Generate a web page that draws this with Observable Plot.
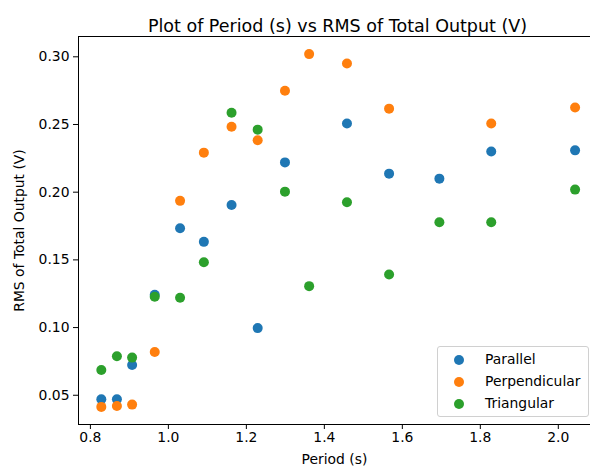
<!DOCTYPE html>
<html>
<head>
<meta charset="utf-8">
<script src="https://cdn.jsdelivr.net/npm/d3@7"></script>
<script src="https://cdn.jsdelivr.net/npm/@observablehq/plot@0.6"></script>
<style>
  body { margin: 0; background: #fff; }
  #wrap { position: relative; width: 590px; height: 469px; overflow: hidden; font-family: "DejaVu Sans", sans-serif; }
  #legend { position: absolute; left: 437px; top: 346px; width: 152px; height: 71px; border: 1px solid #d0d0d0; border-radius: 3px; background: rgba(255,255,255,0.8); box-sizing: border-box; }
  .row { position: absolute; left: 0; height: 20px; font-size: 13.9px; color: #000; }
  .sw { position: absolute; left: 16px; top: 6px; width: 10px; height: 10px; border-radius: 50%; }
  .lab { position: absolute; left: 47px; top: 2px; white-space: nowrap; }
</style>
</head>
<body>
<div id="wrap"></div>
<script>
const periods = [0.828, 0.868, 0.907, 0.965, 1.030, 1.091, 1.162, 1.229, 1.299, 1.361, 1.458, 1.566, 1.695, 1.828, 2.043];
const parallel = [0.047, 0.047, 0.0724, 0.1243, 0.1734, 0.1633, 0.1906, 0.0996, 0.2220, null, 0.2508, 0.2137, 0.2100, 0.2300, 0.2309];
const perpendicular = [0.0414, 0.0421, 0.0431, 0.0819, 0.1936, 0.2292, 0.2484, 0.2383, 0.2749, 0.3020, 0.2950, 0.2617, null, 0.2508, 0.2626];
const triangular = [0.0687, 0.0788, 0.0778, 0.1228, 0.1220, 0.1483, 0.2587, 0.2462, 0.2004, 0.1306, 0.1926, 0.1392, 0.1778, 0.1778, 0.2019];
const seriesNames = ["Parallel", "Perpendicular", "Triangular"];
const seriesColors = ["#1f77b4", "#ff7f0e", "#2ca02c"];
const xTicks = [0.8, 1.0, 1.2, 1.4, 1.6, 1.8, 2.0];
const yTicks = [0.05, 0.10, 0.15, 0.20, 0.25, 0.30];
const title = "Plot of Period (s) vs RMS of Total Output (V)";
const xLabel = "Period (s)";
const yLabel = "RMS of Total Output (V)";

const seriesValues = [parallel, perpendicular, triangular];
const rows = [];
seriesValues.forEach((vals, si) => {
  vals.forEach((v, i) => {
    if (v != null) rows.push({series: seriesNames[si], period: periods[i], rms: v});
  });
});

const xDomain = [0.7695, 2.1005];
const yDomain = [0.0284, 0.315];

const chart = Plot.plot({
  width: 590,
  height: 469,
  marginLeft: 78,
  marginRight: 0,
  marginTop: 36,
  marginBottom: 45,
  style: {fontFamily: "DejaVu Sans, sans-serif", fontSize: "13.9px", color: "#000", background: "#fff", overflow: "visible"},
  x: {domain: xDomain, range: [78, 597]},
  y: {domain: yDomain, range: [424, 36]},
  color: {domain: seriesNames, range: seriesColors},
  marks: [
    Plot.ruleX([xDomain[0]], {stroke: "#000", strokeWidth: 1}),
    Plot.ruleY([yDomain[0]], {stroke: "#000", strokeWidth: 1}),
    Plot.ruleY([yDomain[1]], {stroke: "#000", strokeWidth: 1}),
    Plot.axisX({ticks: xTicks, tickFormat: d3.format(".1f"), tickSize: 5, tickPadding: 3, label: xLabel, labelAnchor: "center", labelArrow: "none", labelOffset: 39, stroke: "#000"}),
    Plot.axisY({ticks: yTicks, tickFormat: d3.format(".2f"), tickSize: 5, tickPadding: 4, label: yLabel, labelAnchor: "center", labelArrow: "none", labelOffset: 64, stroke: "#000"}),
    Plot.dot(rows, {x: "period", y: "rms", fill: "series", r: 5, stroke: "none"}),
    Plot.text([title], {frameAnchor: "top", text: d => d, dy: -17, dx: 3, fontSize: 17.5, fill: "#000"})
  ]
});

const wrap = document.getElementById("wrap");
wrap.appendChild(chart);

const legend = document.createElement("div");
legend.id = "legend";
seriesNames.forEach((name, i) => {
  const row = document.createElement("div");
  row.className = "row";
  row.style.top = (2 + i * 22) + "px";
  const sw = document.createElement("div");
  sw.className = "sw";
  sw.style.background = seriesColors[i];
  const lab = document.createElement("div");
  lab.className = "lab";
  lab.textContent = name;
  row.appendChild(sw);
  row.appendChild(lab);
  legend.appendChild(row);
});
wrap.appendChild(legend);
</script>
</body>
</html>
